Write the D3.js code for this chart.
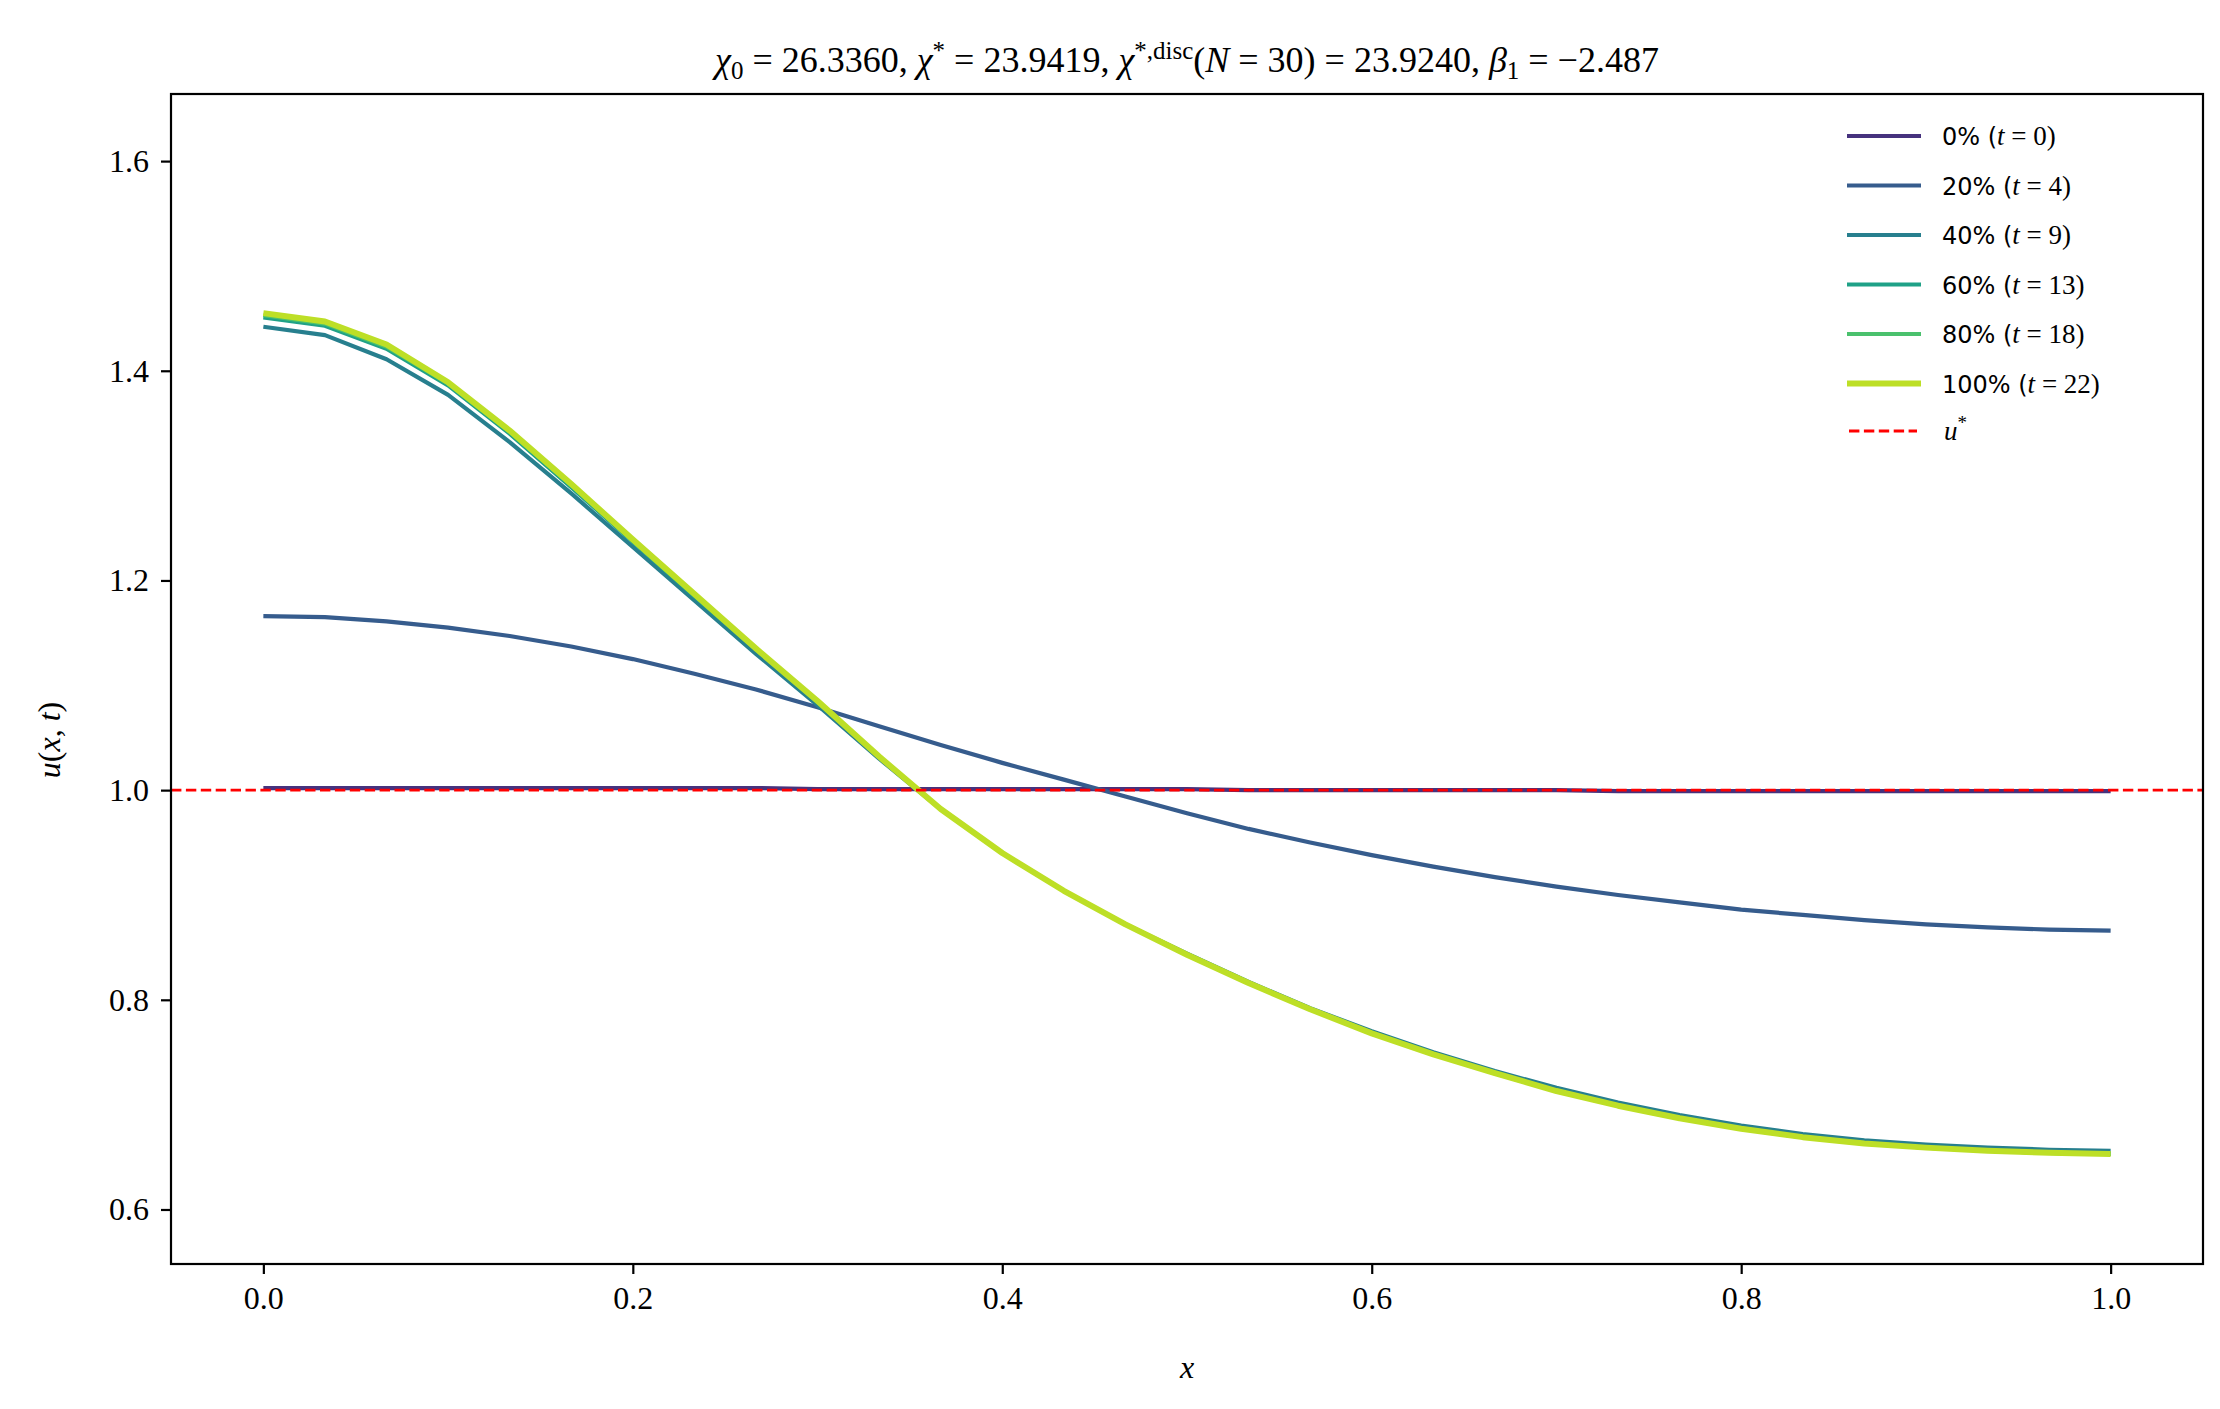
<!DOCTYPE html>
<html>
<head>
<meta charset="utf-8">
<script src="https://cdn.jsdelivr.net/npm/d3@7"></script>
<style>
  body { margin: 0; background: #fff; }
  text { font-family: "Liberation Serif", "DejaVu Serif", serif; fill: #000; }
</style>
</head>
<body>
<svg id="chart" width="2220" height="1409"></svg>
<script>
// grid x = k/30, k = 0..30
const xs = d3.range(31).map(k => k / 30);

const u0 = [1.002,1.002,1.002,1.002,1.002,1.002,1.002,1.002,1.002,1.001,1.001,1.001,1.001,1.001,1.001,1.001,1.000,1.000,1.000,1.000,1.000,1.000,0.999,0.999,0.999,0.999,0.999,0.999,0.999,0.999,0.999];
const u4 = [1.166,1.165,1.161,1.155,1.147,1.137,1.125,1.111,1.096,1.079,1.061,1.043,1.026,1.010,0.994,0.978,0.963,0.950,0.938,0.927,0.917,0.908,0.900,0.893,0.886,0.881,0.876,0.872,0.869,0.867,0.866];
const u9 = [1.442,1.434,1.411,1.377,1.332,1.283,1.232,1.181,1.130,1.081,1.030,0.982,0.940,0.904,0.872,0.844,0.817,0.792,0.770,0.750,0.732,0.716,0.702,0.690,0.680,0.672,0.666,0.662,0.659,0.657,0.656];
const u13 = [1.451,1.443,1.421,1.386,1.340,1.289,1.237,1.185,1.134,1.084,1.032,0.982,0.940,0.904,0.872,0.843,0.816,0.791,0.768,0.748,0.730,0.713,0.699,0.687,0.677,0.669,0.663,0.659,0.656,0.654,0.653];
const u18 = [1.453,1.445,1.423,1.388,1.342,1.291,1.238,1.186,1.135,1.085,1.032,0.982,0.940,0.904,0.872,0.843,0.816,0.791,0.768,0.748,0.730,0.713,0.699,0.687,0.677,0.669,0.663,0.659,0.656,0.654,0.653];
const u22 = [1.455,1.447,1.425,1.389,1.343,1.292,1.239,1.187,1.135,1.085,1.032,0.982,0.940,0.904,0.872,0.843,0.816,0.791,0.768,0.748,0.730,0.713,0.699,0.687,0.677,0.669,0.663,0.659,0.656,0.654,0.653];

const pct = ["0%", "20%", "40%", "60%", "80%", "100%"];
const times = [0, 4, 9, 13, 18, 22];
const colors = ["#46327e", "#365c8d", "#277f8e", "#1fa187", "#4ac16d", "#bddf26"];
const widths = [4.2, 4.2, 4.2, 4.2, 4.2, 6];
const series = [u0, u4, u9, u13, u18, u22];
const uStar = 1.0;
const xTicks = [0, 0.2, 0.4, 0.6, 0.8, 1.0];
const yTicks = [0.6, 0.8, 1.0, 1.2, 1.4, 1.6];

const L = 171, R = 2203, T = 94, B = 1264;
const svg = d3.select("#chart");
const x = d3.scaleLinear().domain([-0.05, 1.05]).range([L, R]);
const y = d3.scaleLinear().domain([0.548, 1.664]).range([B, T]);

const line = d3.line().x((d, i) => x(xs[i])).y(d => y(d));
series.forEach((s, j) => {
  svg.append("path").datum(s)
    .attr("d", line).attr("fill", "none")
    .attr("stroke", colors[j]).attr("stroke-width", widths[j])
    .attr("stroke-linejoin", "round");
});

svg.append("line")
  .attr("x1", L).attr("x2", R).attr("y1", y(uStar)).attr("y2", y(uStar))
  .attr("stroke", "#ff0000").attr("stroke-width", 2.8)
  .attr("stroke-dasharray", "10.4,4.5");

// axes
const xa = svg.append("g").attr("transform", `translate(0,${B})`)
  .call(d3.axisBottom(x).tickValues(xTicks).tickFormat(d3.format(".1f")).tickSize(10).tickPadding(12));
const ya = svg.append("g").attr("transform", `translate(${L},0)`)
  .call(d3.axisLeft(y).tickValues(yTicks).tickFormat(d3.format(".1f")).tickSize(10).tickPadding(12));
[xa, ya].forEach(g => {
  g.select(".domain").remove();
  g.selectAll("line").attr("stroke", "#000").attr("stroke-width", 2.2);
  g.selectAll("text").attr("font-size", 32).attr("font-family", "Liberation Serif");
});
svg.append("rect").attr("x", L).attr("y", T).attr("width", R - L).attr("height", B - T)
  .attr("fill", "none").attr("stroke", "#000").attr("stroke-width", 2.2);

// labels
svg.append("text").attr("x", (L + R) / 2).attr("y", 1378).attr("text-anchor", "middle")
  .attr("font-size", 32).attr("font-style", "italic").text("x");
const yl = svg.append("text").attr("transform", "translate(60,740) rotate(-90)")
  .attr("text-anchor", "middle").attr("font-size", 32);
yl.append("tspan").attr("font-style", "italic").text("u");
yl.append("tspan").text("(");
yl.append("tspan").attr("font-style", "italic").text("x");
yl.append("tspan").text(", ");
yl.append("tspan").attr("font-style", "italic").text("t");
yl.append("tspan").text(")");

// title
const ti = svg.append("text").attr("x", (L + R) / 2).attr("y", 72)
  .attr("text-anchor", "middle").attr("font-size", 36);
function part(t, opts = {}) {
  const s = ti.append("tspan").text(t);
  if (opts.it) s.attr("font-style", "italic");
  if (opts.dy) s.attr("dy", opts.dy);
  if (opts.fs) s.attr("font-size", opts.fs);
  return s;
}
part("χ", { it: 1 }); part("0", { dy: 7, fs: 25 }); part(" = 26.3360,  ", { dy: -7 });
part("χ", { it: 1 }); part("*", { dy: -13, fs: 25 }); part(" = 23.9419,  ", { dy: 13 });
part("χ", { it: 1 }); part("*,disc", { dy: -13, fs: 25 }); part("(", { dy: 13 });
part("N", { it: 1 }); part(" = 30) = 23.9240,  ");
part("β", { it: 1 }); part("1", { dy: 7, fs: 25 }); part(" = −2.487", { dy: -7 });

// legend
const ly0 = 136, lstep = 49.5;
series.forEach((s, j) => {
  const yy = ly0 + j * lstep;
  svg.append("line").attr("x1", 1847).attr("x2", 1921).attr("y1", yy).attr("y2", yy)
    .attr("stroke", colors[j]).attr("stroke-width", widths[j]);
  const t = svg.append("text").attr("x", 1942).attr("y", yy + 9).attr("font-size", 27);
  t.append("tspan").attr("font-family", "DejaVu Sans").attr("font-size", 24).text(pct[j] + " (");
  t.append("tspan").attr("font-style", "italic").text("t");
  t.append("tspan").text(" = " + times[j] + ")");
});
const yr = ly0 + 6 * lstep - 2;
svg.append("line").attr("x1", 1849).attr("x2", 1917).attr("y1", yr).attr("y2", yr)
  .attr("stroke", "#ff0000").attr("stroke-width", 2.8).attr("stroke-dasharray", "10.4,4.5");
const ul = svg.append("text").attr("x", 1944).attr("y", yr + 9).attr("font-size", 27);
ul.append("tspan").attr("font-style", "italic").text("u");
ul.append("tspan").attr("dy", -11).attr("font-size", 19).text("*");
</script>
</body>
</html>
